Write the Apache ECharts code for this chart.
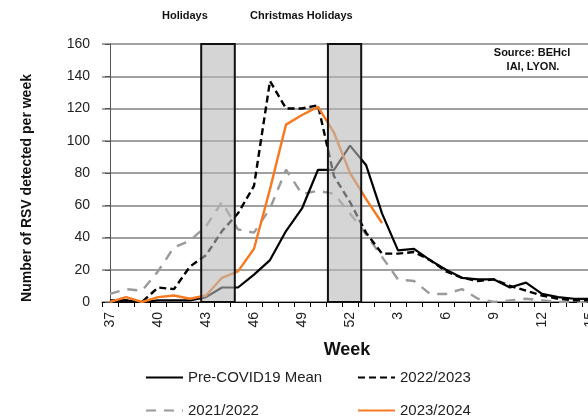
<!DOCTYPE html>
<html>
<head>
<meta charset="utf-8">
<script src="https://cdn.jsdelivr.net/npm/echarts@6/dist/echarts.min.js"></script>
<style>
html,body{margin:0;padding:0;background:#fff;overflow:hidden;}
#chart{width:660px;height:417px;}
</style>
</head>
<body>
<div id="chart"></div>
<script>
// Week categories (epidemiological weeks)
var weeks = ['37','38','39','40','41','42','43','44','45','46','47','48','49','50','51','52',
             '1','2','3','4','5','6','7','8','9','10','11','12','13','14','15','16','17'];

var preCovidMean = [0,1,0,1,1,1,3,9,9,17,26,44,58,82,82,97,
                    85,55,32,33,26,20,15,14,14,9,12,5,3,2,2,null,null];
var season2022 = [1,1,0,9,8,22,29,44,55,72,137,120,120,122,78,62,
                  43,30,30,31,26,19,15,13,14,10,7,4,2,1,1,null,null];
var season2021 = [5,8,7,19,34,38,47,62,45,43,58,82,67,69,67,55,
                  42,28,14,13,5,5,8,2,0,1,2,1,0,0,0,null,null];
var season2023 = [0,3,0,3,4,2,4,15,19,33,70,110,116,121,105,80,
                  64,49,null,null,null,null,null,null,null,null,null,null,null,null,null,null,null];

// Holiday boxes, in category-index units (0 = week 37)
var holidayFrom = [5.7, 13.62];
var holidayTo   = [7.8, 15.7];
var yMax = 160;

var seriesNames = ['Pre-COVID19 Mean', '2022/2023', '2021/2022', '2023/2024'];

var FONT = "'Liberation Sans', Arial, sans-serif";
var chart = echarts.init(document.getElementById('chart'));

var boxData = holidayFrom.map(function(f, i){ return [f, holidayTo[i], 0, yMax]; });

var legendBase = function(name, left, top){
  return {
    data: [name], left: left, top: top, padding: 0,
    itemWidth: 37, itemHeight: 12,
    itemStyle: {opacity: 0},
    textStyle: {fontFamily: FONT, fontSize: 15, color: '#222'},
    selectedMode: false
  };
};

chart.setOption({
  animation: false,
  backgroundColor: '#fff',
  grid: {left: 102, top: 44, width: 528, height: 258, containLabel: false},
  xAxis: [{
    type: 'category', data: weeks, boundaryGap: true,
    axisLine: {lineStyle: {color: '#000', width: 1}},
    axisTick: {show: true, interval: 0, length: 5, lineStyle: {color: '#000'}},
    axisLabel: {interval: 2, rotate: 90, margin: 10, fontFamily: FONT, fontSize: 14, color: '#222'},
    splitLine: {show: false}
  }, {
    type: 'value', min: -0.5, max: weeks.length - 0.5, show: false
  }],
  yAxis: {
    type: 'value', min: 0, max: 160, interval: 20,
    axisLine: {show: true, lineStyle: {color: '#555', width: 1}},
    axisTick: {show: true, length: 5, lineStyle: {color: '#555'}},
    axisLabel: {margin: 12, fontFamily: FONT, fontSize: 14, color: '#222'},
    splitLine: {lineStyle: {color: '#808080', width: 1.5}}
  },
  legend: [
    legendBase(seriesNames[0], 145, 370),
    legendBase(seriesNames[1], 357, 370),
    legendBase(seriesNames[2], 145, 403),
    legendBase(seriesNames[3], 357, 403)
  ],
  series: [
    {name: seriesNames[0], type: 'line', data: preCovidMean, symbol: 'none', z: 3,
     lineStyle: {color: '#000', width: 2.2}, itemStyle: {color: '#000'}},
    {name: seriesNames[1], type: 'line', data: season2022, symbol: 'none', z: 3,
     lineStyle: {color: '#000', width: 2.4, type: [7, 4]}, itemStyle: {color: '#000'}},
    {name: seriesNames[2], type: 'line', data: season2021, symbol: 'none', z: 2,
     lineStyle: {color: '#9a9a9a', width: 2.4, type: [10, 8]}, itemStyle: {color: '#9a9a9a'}},
    {name: seriesNames[3], type: 'line', data: season2023, symbol: 'none', z: 4,
     lineStyle: {color: '#f57a22', width: 2.4}, itemStyle: {color: '#f57a22'}},
    {name: 'holidays', type: 'custom', xAxisIndex: 1, z: 10, data: boxData,
     encode: {x: [0, 1], y: [2, 3]},
     renderItem: function(params, api){
       var p0 = api.coord([api.value(0), api.value(2)]);
       var p1 = api.coord([api.value(1), api.value(3)]);
       return {
         type: 'rect',
         shape: {x: p0[0], y: p1[1], width: p1[0] - p0[0], height: p0[1] - p1[1]},
         style: {fill: 'rgba(185,185,185,0.6)', stroke: '#111', lineWidth: 2}
       };
     }}
  ],
  graphic: [
    {type: 'text', left: 162, top: 10, style: {text: 'Holidays', font: 'bold 11px ' + FONT, fill: '#111'}},
    {type: 'text', left: 250, top: 10, style: {text: 'Christmas Holidays', font: 'bold 11px ' + FONT, fill: '#111'}},
    {type: 'text', x: 532, y: 47, style: {text: 'Source: BEHcl', font: 'bold 11px ' + FONT, fill: '#111', textAlign: 'center'}},
    {type: 'text', x: 533, y: 61, style: {text: 'IAI, LYON.', font: 'bold 11px ' + FONT, fill: '#111', textAlign: 'center'}},
    {type: 'text', x: 27, y: 188, rotation: Math.PI / 2,
     style: {text: 'Number of RSV detected per week', font: 'bold 14px ' + FONT, fill: '#111',
             textAlign: 'center', textVerticalAlign: 'middle'}},
    {type: 'text', x: 347, y: 350,
     style: {text: 'Week', font: 'bold 18px ' + FONT, fill: '#111', textAlign: 'center', textVerticalAlign: 'middle'}}
  ]
});
</script>
</body>
</html>
